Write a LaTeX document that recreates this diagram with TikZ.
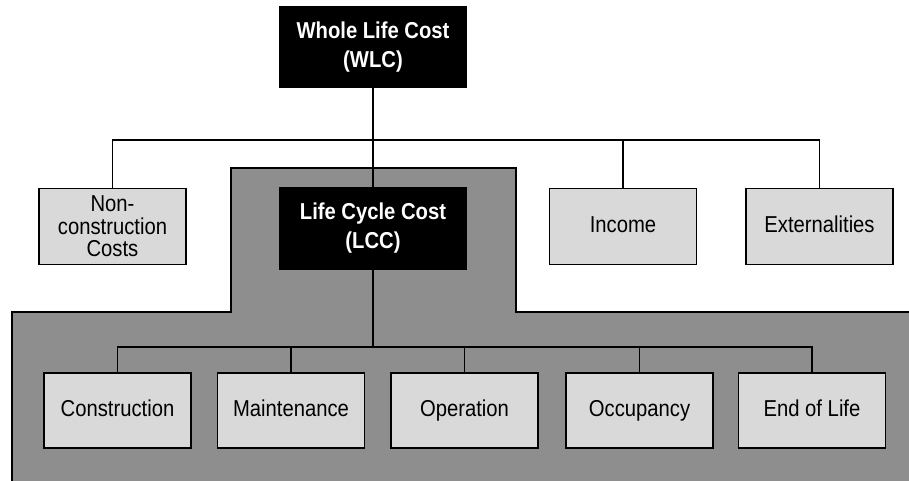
\documentclass[tikz,border=0pt]{standalone}
\usepackage{fontspec}
\setmainfont{Liberation Sans}[FakeStretch=0.88]
\definecolor{regiongrey}{HTML}{8E8E8E}
\definecolor{boxgrey}{HTML}{D9D9D9}
\begin{document}
\begin{tikzpicture}[x=1pt,y=-1pt,
  darkbox/.style={draw=black,fill=black,text=white,line width=1.2pt,
    minimum width=186pt,minimum height=80pt,align=center,inner sep=0pt,
    font=\fontsize{23}{29}\selectfont\bfseries},
  lightbox/.style={draw=black,fill=boxgrey,line width=1.6pt,
    minimum width=147pt,minimum height=76pt,align=center,inner sep=0pt,
    font=\fontsize{23}{22.5}\selectfont},
  onebox/.style={lightbox,minimum height=75pt,text height=16pt,text depth=4pt},
  conn/.style={draw=black,line width=1.6pt}]
\useasboundingbox (0,0) rectangle (909,481);
% grey region
\fill[regiongrey] (12,484) -- (12,312) -- (231,312) -- (231,168) -- (516,168) -- (516,312) -- (912,312) -- (912,484) -- cycle;
\draw[line width=1.4pt] (12,484) -- (12,312) -- (231,312) -- (231,168) -- (516,168) -- (516,312) -- (912,312);
% nodes
\node[darkbox] (wlc) at (373,47) {Whole Life Cost\\(WLC)};
\node[darkbox,minimum height=81pt] (lcc) at (373,228.5) {Life Cycle Cost\\(LCC)};
\node[lightbox] (nc) at (112.5,226.5) {Non-\\construction\\Costs};
\node[onebox,minimum height=76pt] (inc) at (623,226.5) {Income};
\node[onebox,minimum height=76pt] (ext) at (819.5,226.5) {Externalities};
\node[onebox] (con) at (117.5,410.5) {Construction};
\node[onebox] (mai) at (291,410.5) {Maintenance};
\node[onebox] (ope) at (464.5,410.5) {Operation};
\node[onebox] (occ) at (639.5,410.5) {Occupancy};
\node[onebox] (eol) at (812,410.5) {End of Life};
% connectors
\coordinate (bus1) at (0,140);
\coordinate (bus2) at (0,347);
\draw[conn] (wlc.south) -- (lcc.north);
\draw[conn] (nc.north) -- (nc.north |- bus1) -- (ext.north |- bus1) -- (ext.north);
\draw[conn] (inc.north) -- (inc.north |- bus1);
\draw[conn] (lcc.south) -- (lcc.south |- bus2);
\draw[conn] (con.north) -- (con.north |- bus2) -- (eol.north |- bus2) -- (eol.north);
\draw[conn] (mai.north) -- (mai.north |- bus2);
\draw[conn] (ope.north) -- (ope.north |- bus2);
\draw[conn] (occ.north) -- (occ.north |- bus2);
\end{tikzpicture}
\end{document}
